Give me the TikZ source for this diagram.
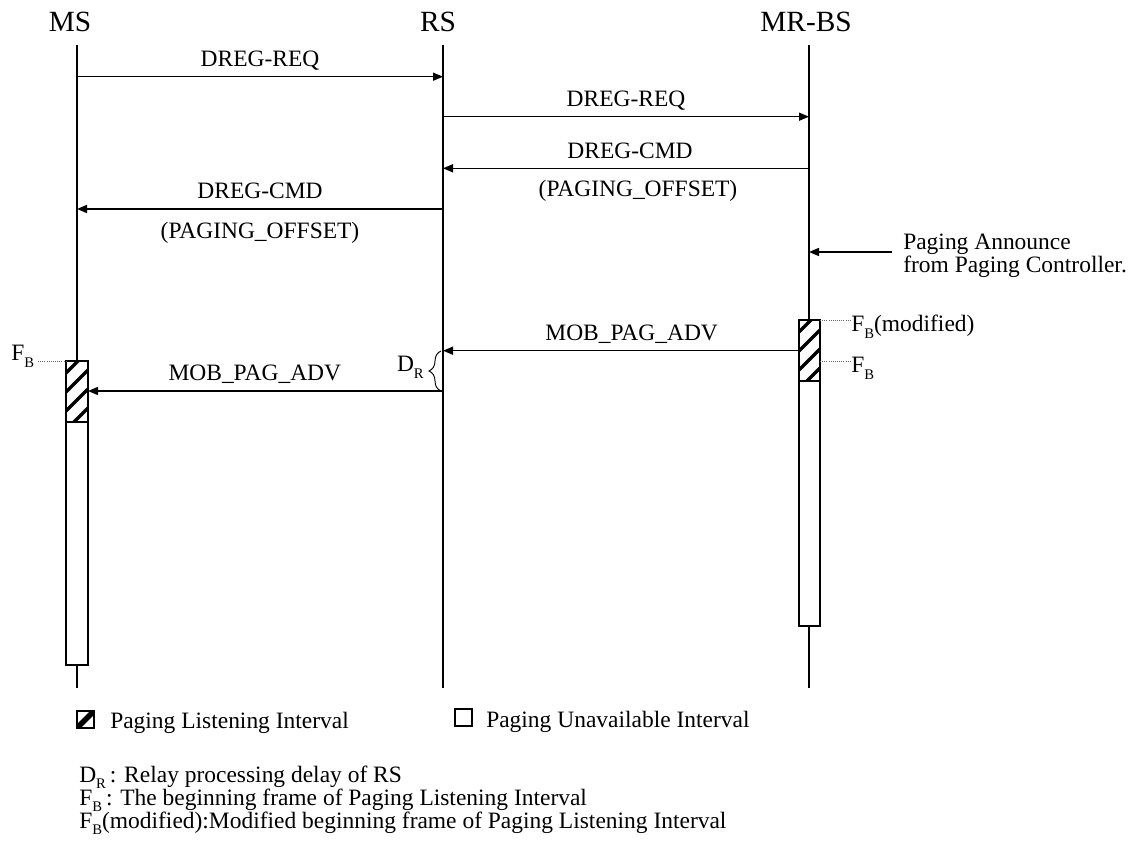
\documentclass[tikz,border=0pt]{standalone}
\usepackage{fontspec}
\setmainfont{Liberation Serif}
\usetikzlibrary{arrows.meta,decorations.pathreplacing}
\newcommand{\hdrfont}{\fontsize{22pt}{26pt}\selectfont}
\newcommand{\lblfont}{\fontsize{17.6pt}{21pt}\selectfont}
\newcommand{\mysub}[1]{\raisebox{-0.28em}{\fontsize{11pt}{12pt}\selectfont #1}}
\tikzset{
  life/.style={line width=1.1pt},
  msg/.style={line width=1.1pt,-{Triangle[length=7.5pt,width=6pt]}},
  lbl/.style={font=\lblfont,anchor=base,inner sep=0pt},
  hdr/.style={font=\hdrfont,anchor=base,inner sep=0pt},
  boxst/.style={line width=1.7pt,fill=white},
  hatchln/.style={line width=2.5pt},
  dotln/.style={densely dotted,line width=0.6pt,black!60},
  txt/.style={font=\lblfont,anchor=base west,inner sep=0pt}
}
\begin{document}
\begin{tikzpicture}[x=0.75pt,y=-0.75pt]
\path[use as bounding box,fill=white] (0,0) rectangle (1135,841);
% headers
\node[hdr] (ms) at (70,32) {MS};
\node[hdr] (rs) at (438,32) {RS};
\node[hdr] (bs) at (806,32) {MR-BS};
% lifelines
\coordinate (msT) at (77,45); \coordinate (msB) at (77,688);
\coordinate (rsT) at (443,45); \coordinate (rsB) at (443,688);
\coordinate (bsT) at (809,45); \coordinate (bsB) at (809,688);
\draw[life] (msT) -- (msB);
\draw[life] (rsT) -- (rsB);
\draw[life] (bsT) -- (bsB);
% messages
\coordinate (m1a) at (77,76.7); \coordinate (m1b) at (443,76.7);
\draw[msg] (m1a) -- node[lbl,midway,yshift=7.5pt] (l1) {DREG-REQ} (m1b);
\coordinate (m2a) at (443,116.7); \coordinate (m2b) at (809,116.7);
\draw[msg] (m2a) -- node[lbl,midway,yshift=7.5pt] (l2) {DREG-REQ} (m2b);
\coordinate (m3a) at (809,168.3); \coordinate (m3b) at (443,168.3);
\draw[msg] (m3a) -- node[lbl,midway,yshift=7.5pt,xshift=3pt] (l3) {DREG-CMD}
  node[lbl,midway,yshift=-21pt,xshift=9pt] (l3b) {(PAGING\_OFFSET)} (m3b);
\coordinate (m4a) at (443,209); \coordinate (m4b) at (77,209);
\draw[msg] (m4a) -- node[lbl,midway,yshift=7.5pt] (l4) {DREG-CMD}
  node[lbl,midway,yshift=-22pt] (l4b) {(PAGING\_OFFSET)} (m4b);
% paging announce
\coordinate (pa) at (892,252); \coordinate (pab) at (809,252);
\draw[msg] (pa) -- (pab);
\node[txt] (pa1) at (903,250) {Paging Announce};
\node[txt] (pa2) at (903,273) {from Paging Controller.};
% MR-BS box
\draw[boxst] (799,320) rectangle (820,626);
\begin{scope}
\clip (799,320) rectangle (820,381);
\foreach \k in {0,...,4} \draw[hatchln] (799,{332+19*\k}) -- (820,{311+19*\k});
\end{scope}
\draw[line width=1.7pt] (799,320) rectangle (820,381);
\node[inner sep=0pt] (bsbox) at (809.5,473) {};
% MS box
\draw[boxst] (66,361) rectangle (88,665);
\begin{scope}
\clip (66,361) rectangle (88,422);
\foreach \k in {0,...,4} \draw[hatchln] (66,{373+19*\k}) -- (88,{351+19*\k});
\end{scope}
\draw[line width=1.7pt] (66,361) rectangle (88,422);
\node[inner sep=0pt] (msbox) at (77,513) {};
% MOB_PAG_ADV
\coordinate (m6a) at (799,350.7); \coordinate (m6b) at (443,350.7);
\draw[msg] (m6a) -- node[lbl,midway,yshift=7.5pt,xshift=8pt] (l6) {MOB\_PAG\_ADV} (m6b);
\coordinate (m7a) at (443,391); \coordinate (m7b) at (88,391);
\draw[msg] (m7a) -- node[lbl,midway,yshift=8pt,xshift=-8pt] (l7) {MOB\_PAG\_ADV} (m7b);
% brace
\coordinate (brB) at (441,391); \coordinate (brT) at (441,351);
\draw[line width=0.7pt,decorate,decoration={brace,amplitude=9pt}] (brB) -- (brT);
\node[txt,anchor=base east] (dr) at (424,372) {D\mysub{R}};
% F_B labels
\coordinate (fbms) at (38,361); \coordinate (fbmsbox) at (66,361);
\draw[dotln] (fbms) -- (fbmsbox);
\node[txt] (fbmsl) at (11,361) {F\mysub{B}};
\coordinate (fbm1) at (820,320); \coordinate (fbm2) at (850,320);
\draw[dotln] (fbm1) -- (fbm2);
\node[txt] (fbmod) at (851,332) {F\mysub{B}(modified)};
\coordinate (fb1) at (820,361); \coordinate (fb2) at (850,361);
\draw[dotln] (fb1) -- (fb2);
\node[txt] (fbbs) at (851,373) {F\mysub{B}};
% legend
\draw[line width=1.6pt] (77,711) rectangle (94,728);
\begin{scope}
\clip (77,711) rectangle (94,728);
\draw[line width=4pt] (77,728) -- (94,711);
\end{scope}
\node[txt] (leg1) at (110,728) {Paging Listening Interval};
\draw[line width=1.6pt] (455,709) rectangle (472,726);
\node[txt] (leg2) at (486,727) {Paging Unavailable Interval};
% notes
\node[txt] (n1) at (79,782) {D\mysub{R}\,: Relay processing delay of RS};
\node[txt] (n2) at (79,805) {F\mysub{B}\,: The beginning frame of Paging Listening Interval};
\node[txt] (n3) at (79,828) {F\mysub{B}(modified):Modified beginning frame of Paging Listening Interval};
\end{tikzpicture}
\end{document}
